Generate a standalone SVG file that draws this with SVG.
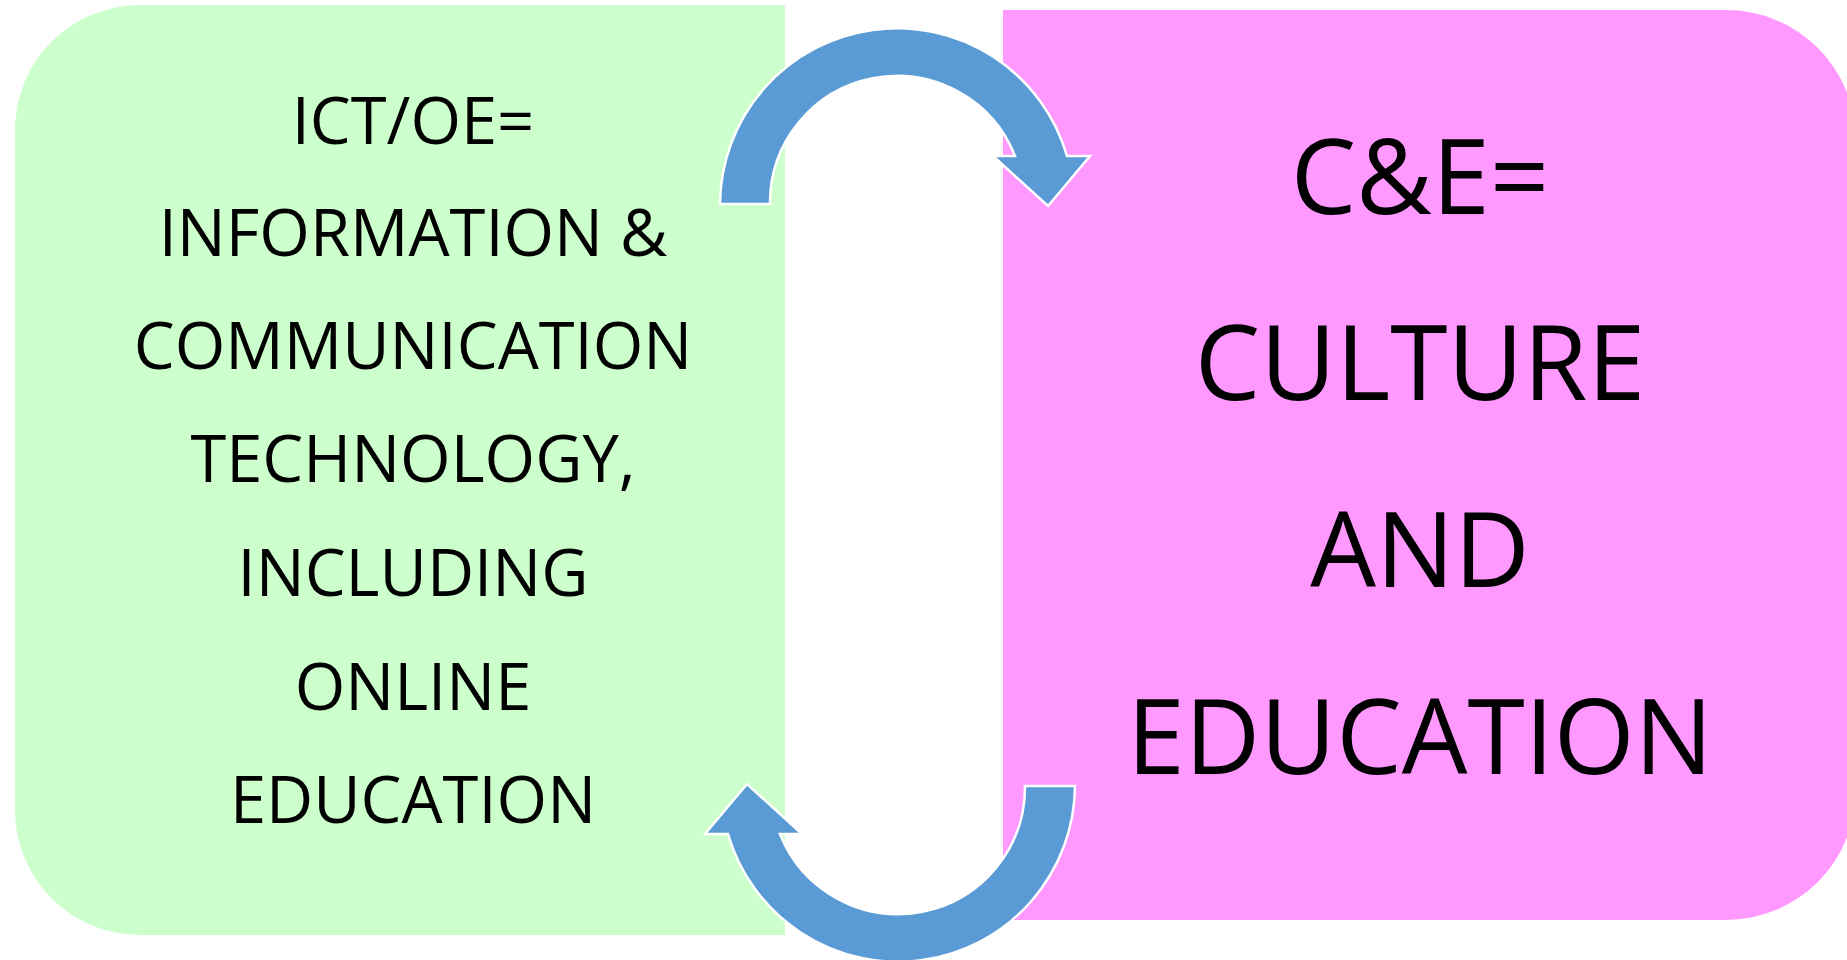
<svg xmlns="http://www.w3.org/2000/svg" width="1847" height="960" viewBox="0 0 1847 960">
<style>
.t { font-family: "Open Sans", "Noto Sans", sans-serif; fill: #000; text-anchor: middle; }
.l { font-size: 65px; }
.r { font-size: 104px; }
.arrow { fill: #5B9BD5; stroke: #FFFFFF; stroke-width: 2.5; stroke-linejoin: miter; }
</style>
<defs>
<path id="carrow" d="M 720 204 A 177 177 0 0 1 1067 156 L 1090 156 L 1048 206 L 993 156 L 1015 156 A 127 127 0 0 0 770 204 Z"/>
</defs>
<rect width="1847" height="960" fill="#FFFFFF"/>
<g id="node-ict">
<path d="M 140 5 H 785 V 935 H 140 A 125 125 0 0 1 15 810 V 130 A 125 125 0 0 1 140 5 Z" fill="#CCFFCC"/>
<text class="t l" x="413" y="144">ICT/OE=</text>
<text class="t l" x="413" y="256">INFORMATION &amp;</text>
<text class="t l" x="413" y="369">COMMUNICATION</text>
<text class="t l" x="413" y="482">TECHNOLOGY,</text>
<text class="t l" x="413" y="596">INCLUDING</text>
<text class="t l" x="413" y="710">ONLINE</text>
<text class="t l" x="413" y="823">EDUCATION</text>
</g>
<g id="node-ce">
<path d="M 1003 10 H 1726 A 130 130 0 0 1 1856 140 V 790 A 130 130 0 0 1 1726 920 H 1003 Z" fill="#FF99FF"/>
<text class="t r" x="1420" y="214">C&amp;E=</text>
<text class="t r" x="1420" y="400">CULTURE</text>
<text class="t r" x="1420" y="587">AND</text>
<text class="t r" x="1420" y="774">EDUCATION</text>
</g>
<g id="connectors">
<use href="#carrow" class="arrow"/>
<use href="#carrow" class="arrow" transform="rotate(180 897.5 495)"/>
</g>
</svg>
